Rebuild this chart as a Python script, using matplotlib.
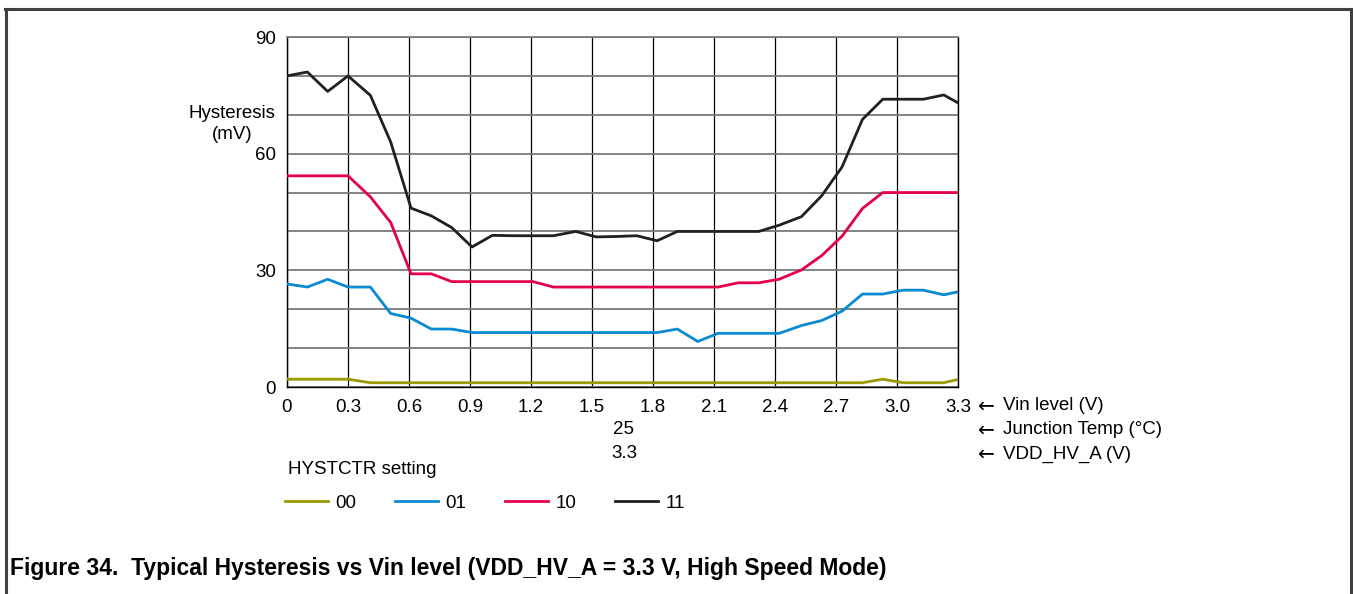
import matplotlib
matplotlib.use("Agg")
import matplotlib.pyplot as plt
from matplotlib.lines import Line2D

plt.rcParams["font.family"] = ["Liberation Sans", "DejaVu Sans"]

# DATA
vin = [0, 0.1, 0.2, 0.3, 0.41, 0.51, 0.61, 0.71, 0.81, 0.91, 1.01, 1.11,
       1.21, 1.31, 1.42, 1.52, 1.62, 1.72, 1.82, 1.92, 2.02, 2.12, 2.22,
       2.32, 2.42, 2.53, 2.63, 2.73, 2.83, 2.93, 3.03, 3.13, 3.23, 3.33]

hyst_00 = [2.0, 2.0, 2.0, 2.0] + [1.1] * 25 + [2.0, 1.1, 1.1, 1.1, 2.3]
hyst_01 = [26.5, 25.7, 27.7, 25.7, 25.7, 18.9, 17.7, 14.9, 14.9] + [14.0] * 10 + \
          [14.9, 11.7, 13.8, 13.8, 13.8, 13.8, 15.8, 17.1, 19.5, 23.9, 23.9,
           24.9, 24.9, 23.7, 24.8]
hyst_10 = [54.3] * 4 + [48.9, 42.3, 29.1, 29.1] + [27.1] * 5 + [25.7] * 9 + \
          [26.8, 26.8, 27.7, 30.1, 33.8, 38.8, 45.9] + [50.0] * 5
hyst_11 = [80, 81, 76, 80, 75, 63, 46, 44, 41, 36, 39, 38.9, 38.9, 38.9, 40,
           38.6, 38.7, 38.9, 37.6, 40, 40, 40, 40, 40, 41.6, 43.8, 49.2, 56.6,
           68.8, 74, 74, 74, 75.1, 72.2]

series = [("00", hyst_00, "#9a9a00"), ("01", hyst_01, "#0a8ad0"),
          ("10", hyst_10, "#e4004f"), ("11", hyst_11, "#231f20")]

x_ticks = [0, 0.3, 0.6, 0.9, 1.2, 1.5, 1.8, 2.1, 2.4, 2.7, 3.0, 3.3]
x_labels = ["0", "0.3", "0.6", "0.9", "1.2", "1.5", "1.8", "2.1", "2.4",
            "2.7", "3.0", "3.3"]
y_ticks = [0, 30, 60, 90]
y_minor = [10, 20, 40, 50, 70, 80]

side_labels = ["Vin level (V)", "Junction Temp (°C)", "VDD_HV_A (V)"]
side_values = ["", "25", "3.3"]

FS = 13.5

# PLOT
W, H = 1353, 594
fig = plt.figure(figsize=(W / 100, H / 100), dpi=100)
ax = fig.add_axes([287 / W, (H - 387) / H, 671 / W, 350 / H])

lines = []
for name, vals, col in series:
    l, = ax.plot(vin, vals, color=col, lw=2.0, label=name, zorder=3)
    lines.append(l)

ax.set_xlim(0, 3.3)
ax.set_ylim(0, 90)
ax.set_xticks(x_ticks)
ax.set_xticklabels(x_labels)
ax.set_yticks(y_ticks)
ax.set_yticks(y_minor, minor=True)
ax.tick_params(axis="both", which="both", length=0, labelsize=FS)
ax.tick_params(axis="x", pad=8.5)
ax.tick_params(axis="y", pad=8)

ax.grid(axis="y", which="both", color="#7a7a7a", lw=1.3)
ax.grid(axis="x", color="black", lw=0.9)
ax.set_axisbelow(True)
for s in ["left", "right", "bottom"]:
    ax.spines[s].set_color("black")
    ax.spines[s].set_linewidth(1.0)
ax.spines["top"].set_color("#7a7a7a")
ax.spines["top"].set_linewidth(1.3)

fig.text(232 / W, 1 - 124 / H, "Hysteresis\n(mV)", ha="center", va="center",
         fontsize=FS, linespacing=1.3)

# side annotations
rows_y = [406, 430, 454]
for lab, val, yy in zip(side_labels, side_values, rows_y):
    fig.text(986 / W, 1 - yy / H, "\u2190", ha="center", va="center",
             fontsize=FS + 1, family="DejaVu Sans")
    fig.text(1003 / W, 1 - yy / H, lab, ha="left", va="center", fontsize=FS)
    if val:
        fig.text(624 / W, 1 - yy / H, val, ha="center", va="center", fontsize=FS)

fig.text(288 / W, 1 - 470 / H, "HYSTCTR setting", ha="left", va="center",
         fontsize=FS)

fig.legend(handles=lines, loc="center left", bbox_to_anchor=(285 / W, 1 - 503 / H),
           ncol=4, frameon=False, fontsize=FS, handlelength=2.3,
           handletextpad=0.4, columnspacing=2.05, borderaxespad=0, borderpad=0)

fig.text(10 / W, 1 - 569 / H,
         "Figure 34.  Typical Hysteresis vs Vin level (VDD_HV_A = 3.3 V, High Speed Mode)",
         ha="left", va="center", fontsize=16.5, fontweight="bold")

# outer frame
frame = dict(color="#404040", lw=2.2, transform=fig.transFigure)
fig.add_artist(Line2D([5 / W, 1351 / W], [1 - 9 / H, 1 - 9 / H], **frame))
fig.add_artist(Line2D([6 / W, 6 / W], [1 - 9 / H, 0], **frame))
fig.add_artist(Line2D([1351 / W, 1351 / W], [1 - 9 / H, 0], **frame))

fig.savefig("out.png", dpi=100)
